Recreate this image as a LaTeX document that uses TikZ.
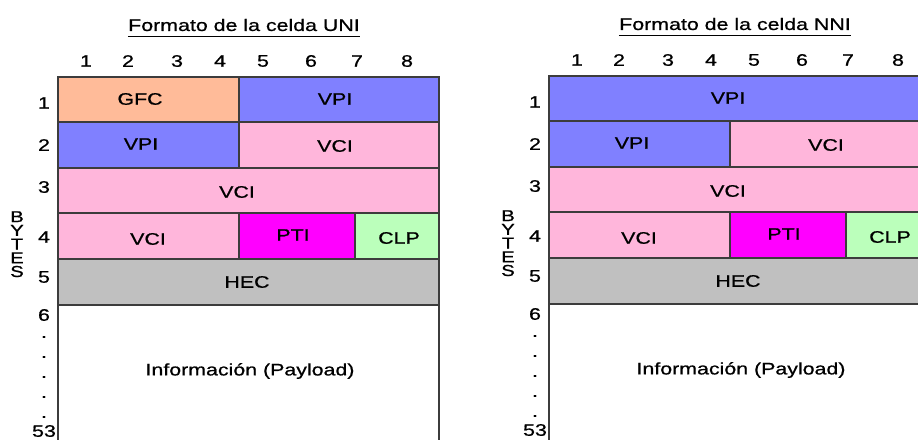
\documentclass[tikz,border=0pt]{standalone}
\usepackage{fontspec}
\setmainfont{Liberation Sans}[FakeStretch=1.28, FakeBold=0.8]
\usepackage{xcolor}
\usepackage{tikz}

\definecolor{gfcorange}{RGB}{255,187,153}
\definecolor{vpiblue}{RGB}{128,128,255}
\definecolor{vcipink}{RGB}{255,182,219}
\definecolor{ptimagenta}{RGB}{255,0,255}
\definecolor{clpgreen}{RGB}{187,255,187}
\definecolor{hecgray}{RGB}{192,192,192}
\definecolor{edgegray}{RGB}{60,60,60}

\tikzset{
  lbl/.style={font=\fontsize{9.5}{11}\selectfont, inner sep=0pt},
  field/.style={draw=edgegray, line width=0.7pt},
}

\begin{document}
\begin{tikzpicture}[x=0.02cm, y=-0.02cm]
\useasboundingbox (0,0) rectangle (918,439);
\clip (0,0) rectangle (918,439);

% rows 2 to 6 are the same in both cells
\foreach \dx/\dy/\iface in {58/77/UNI, 549/76/NNI} {
\begin{scope}[shift={(\dx,\dy)}]
  \filldraw[field, fill=vpiblue] (0,45) rectangle (181,91);
  \filldraw[field, fill=vcipink] (181,45) rectangle (381,91);
  \filldraw[field, fill=vcipink] (0,91) rectangle (381,136);
  \filldraw[field, fill=vcipink] (0,136) rectangle (181,182);
  \filldraw[field, fill=ptimagenta] (181,136) rectangle (297,182);
  \filldraw[field, fill=clpgreen] (297,136) rectangle (381,182);
  \filldraw[field, fill=hecgray] (0,182) rectangle (381,228);
  \draw[field] (0,228) -- (0,400) (381,228) -- (381,400);

  \node[lbl] (vpi2-\iface) at (83,67) {VPI};
  \node[lbl] (vci2-\iface) at (277,69) {VCI};
  \node[lbl] (vci3-\iface) at (179,115) {VCI};
  \node[lbl] (vci4-\iface) at (90,162) {VCI};
  \node[lbl] (pti-\iface) at (235,158) {PTI};
  \node[lbl] (clp-\iface) at (341,161) {CLP};
  \node[lbl] (hec-\iface) at (189,205) {HEC};
  \node[lbl] (payload-\iface) at (192,294) {Información (Payload)};

  % title and bit numbers
  \node[lbl] (title-\iface) at (186,-52) {Formato de la celda \iface};
  \draw[line width=0.6pt] ([yshift=-2.8pt]title-\iface.south west)
    -- ([yshift=-2.8pt]title-\iface.south east);
  \foreach \bx [count=\b] in {28,70,119,162,205,253,299,349}
    \node[lbl] (bit\b-\iface) at (\bx,-16) {\b};

  % byte numbers
  \foreach \by [count=\r] in {26,68,110,160,200,238}
    \node[lbl] (byte\r-\iface) at (-14,\by) {\r};
  \foreach \by [count=\k] in {260,280,300,320,340}
    \node[lbl] (dot\k-\iface) at (-14,\by) {.};
  \node[lbl] (byte53-\iface) at (-14,354) {53};
  \foreach \l [count=\k] in {B,Y,T,E,S}
    \node[lbl, font=\fontsize{9}{10}\selectfont] (bytes\k-\iface)
      at (-41,126+13.7*\k) {\l};
\end{scope}
}

% first byte: UNI
\begin{scope}[shift={(58,77)}]
  \filldraw[field, fill=gfcorange] (0,0) rectangle (181,45);
  \filldraw[field, fill=vpiblue] (181,0) rectangle (381,45);
  \node[lbl] (gfc-UNI) at (82,22) {GFC};
  \node[lbl] (vpi1-UNI) at (277,22) {VPI};
\end{scope}

% first byte: NNI
\begin{scope}[shift={(549,76)}]
  \filldraw[field, fill=vpiblue] (0,0) rectangle (381,45);
  \node[lbl] (vpi1-NNI) at (179,22) {VPI};
\end{scope}
\end{tikzpicture}
\end{document}
